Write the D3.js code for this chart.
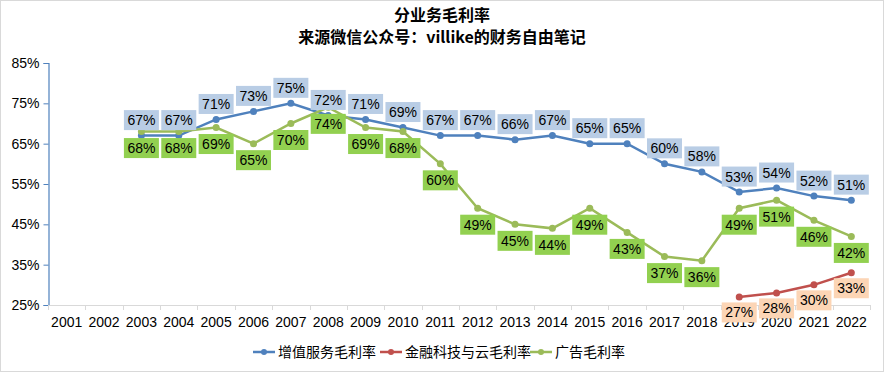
<!DOCTYPE html>
<html>
<head>
<meta charset="utf-8">
<script src="https://cdn.jsdelivr.net/npm/d3@7"></script>
<style>
body { margin: 0; background: #fff; }
svg { display: block; }
</style>
</head>
<body>
<svg width="884" height="372"></svg>
<script>
var years = ["2001","2002","2003","2004","2005","2006","2007","2008","2009","2010","2011",
	"2012","2013","2014","2015","2016","2017","2018","2019","2020","2021","2022"];

// 增值服务毛利率 (2003-2022)
var vasYears = years.slice(2);
var vasValues = [67,67,71,73,75,72,71,69,67,67,66,67,65,65,60,58,53,54,52,51];

// 金融科技与云毛利率 (2019-2022)
var finYears = ["2019","2020","2021","2022"];
var finValues = [27,28,30,33];

// 广告毛利率 (2003-2022)
var adYears = years.slice(2);
var adValues = [68,68,69,65,70,74,69,68,60,49,45,44,49,43,37,36,49,51,46,42];

var yTicks = [25,35,45,55,65,75,85];

var series = [
	{ name: "增值服务毛利率", years: vasYears, values: vasValues, color: "#4F81BD", box: "#B9CDE5", dy: -15.5 },
	{ name: "金融科技与云毛利率", years: finYears, values: finValues, color: "#C0504D", box: "#FCD5B5", dy: 15.5 },
	{ name: "广告毛利率", years: adYears, values: adValues, color: "#9BBB59", box: "#92D050", dy: 16.5 }
];

var svg = d3.select("svg");
var numFont = "'Liberation Sans', Arial, sans-serif";
var cjkFont = "'Noto Sans CJK SC', sans-serif";

// outer border
svg.append("rect")
	.attr("x", 0.5).attr("y", 0.5)
	.attr("width", 883).attr("height", 371)
	.attr("fill", "#fff")
	.attr("stroke", "#d9d9d9");

// titles
svg.append("text")
	.attr("x", 442).attr("y", 21)
	.attr("text-anchor", "middle")
	.attr("font-family", cjkFont)
	.attr("font-weight", "bold")
	.attr("font-size", 16)
	.text("分业务毛利率");
svg.append("text")
	.attr("x", 442).attr("y", 43)
	.attr("text-anchor", "middle")
	.attr("font-family", cjkFont)
	.attr("font-weight", "bold")
	.attr("font-size", 16)
	.text("来源微信公众号：villike的财务自由笔记");

var x = d3.scaleBand()
	.domain(years)
	.range([48, 870]);

var y = d3.scaleLinear()
	.domain([25, 85])
	.range([305, 63]);

function cx(d) { return x(d) + x.bandwidth() / 2; }

// y axis
var yAxis = d3.axisLeft(y)
	.tickValues(yTicks)
	.tickSize(5)
	.tickFormat(function(d) { return d + "%"; });

var yg = svg.append("g")
	.attr("transform", "translate(48.5,0)")
	.call(yAxis);
yg.select(".domain").attr("stroke", "#4F81BD").attr("stroke-width", 1.2);
yg.selectAll(".tick line").attr("stroke", "#4F81BD");
yg.selectAll(".tick text")
	.attr("font-family", numFont)
	.attr("font-size", 14)
	.attr("fill", "#000")
	.attr("x", -9);

// x axis (ticks between categories)
var xg = svg.append("g");
xg.append("line")
	.attr("x1", 48).attr("x2", 870)
	.attr("y1", 305.5).attr("y2", 305.5)
	.attr("stroke", "#d9d9d9");
xg.selectAll("line.tk")
	.data(years.concat(["end"]))
	.enter().append("line")
	.attr("class", "tk")
	.attr("x1", function(d, i) { return Math.round(48 + i * x.bandwidth()) + 0.5; })
	.attr("x2", function(d, i) { return Math.round(48 + i * x.bandwidth()) + 0.5; })
	.attr("y1", 305).attr("y2", 310)
	.attr("stroke", "#d9d9d9");
xg.selectAll("text")
	.data(years)
	.enter().append("text")
	.attr("x", cx)
	.attr("y", 327)
	.attr("text-anchor", "middle")
	.attr("font-family", numFont)
	.attr("font-size", 14)
	.text(function(d) { return d; });

// lines and markers
var line = d3.line()
	.x(function(d) { return cx(d.year); })
	.y(function(d) { return y(d.value); });

series.forEach(function(s) {
	s.points = s.years.map(function(yr, i) { return { year: yr, value: s.values[i] }; });
});

series.forEach(function(s) {
	svg.append("path")
		.datum(s.points)
		.attr("fill", "none")
		.attr("stroke", s.color)
		.attr("stroke-width", 2.5)
		.attr("d", line);
	svg.selectAll(null)
		.data(s.points)
		.enter().append("circle")
		.attr("cx", function(d) { return cx(d.year); })
		.attr("cy", function(d) { return y(d.value); })
		.attr("r", 3.5)
		.attr("fill", s.color);
});

// data labels
series.forEach(function(s) {
	var g = svg.selectAll(null)
		.data(s.points)
		.enter().append("g")
		.attr("transform", function(d) {
			return "translate(" + cx(d.year) + "," + (y(d.value) + s.dy) + ")";
		});
	g.append("rect")
		.attr("x", -17.5).attr("y", -10)
		.attr("width", 35).attr("height", 20)
		.attr("fill", s.box);
	g.append("text")
		.attr("y", 5)
		.attr("text-anchor", "middle")
		.attr("font-family", numFont)
		.attr("font-size", 14)
		.attr("fill", "#000")
		.text(function(d) { return d.value + "%"; });
});

// legend
var legend = svg.append("g");
var lx = [253, 380, 530];
series.forEach(function(s, i) {
	var item = legend.append("g").attr("transform", "translate(" + lx[i] + ",352)");
	item.append("line")
		.attr("x1", 0).attr("x2", 22)
		.attr("stroke", s.color)
		.attr("stroke-width", 2.5);
	item.append("circle")
		.attr("cx", 11).attr("r", 3)
		.attr("fill", s.color);
	item.append("text")
		.attr("x", 25).attr("y", 5)
		.attr("font-family", cjkFont)
		.attr("font-size", 14)
		.attr("fill", "#000")
		.text(s.name);
});
</script>
</body>
</html>
